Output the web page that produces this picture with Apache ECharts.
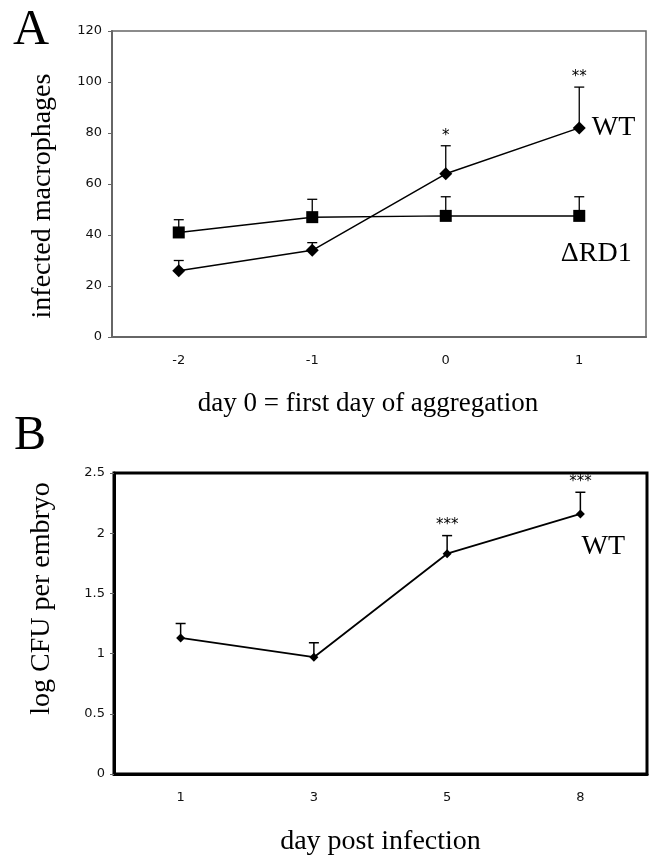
<!DOCTYPE html>
<html>
<head>
  <meta charset="utf-8">
  <title>infected macrophages / log CFU</title>
</head>
<body style="margin:0;background:#fff;">
  <div id="main" style="width:651px;height:857px;"></div>
  <script type="text/javascript" src="https://cdn.jsdelivr.net/npm/echarts@6/dist/echarts.min.js"></script>
  <script type="text/javascript">
    // panel A : infected macrophages around day of aggregation
    const daysA = ['-2', '-1', '0', '1'];
    const wtA = [26, 34, 64, 82];
    const wtAErr = [4, 3, 11, 16];
    const wtAStars = ['', '', '*', '**'];
    const rd1A = [41, 47, 47.5, 47.5];
    const rd1AErr = [5, 7, 7.5, 7.5];

    // panel B : log CFU per embryo
    const daysB = ['1', '3', '5', '8'];
    const wtB = [1.13, 0.97, 1.83, 2.16];
    const wtBErr = [0.12, 0.12, 0.15, 0.18];
    const wtBStars = ['', '', '***', '***'];

    const serif = 'Liberation Serif';
    const sans = 'DejaVu Sans';

    // one upper error bar per point, stars above the cap
    function errorData(vals, errs, stars) {
      return vals.map((v, i) => [i, v, v + errs[i], stars ? stars[i] : '']);
    }
    function errorBar(capW, width) {
      return function (params, api) {
        const base = api.coord([api.value(0), api.value(1)]);
        const top = api.coord([api.value(0), api.value(2)]);
        const star = api.value(3);
        const children = [
          { type: 'line', shape: { x1: base[0], y1: base[1], x2: top[0], y2: top[1] }, style: { stroke: '#000', lineWidth: width } },
          { type: 'line', shape: { x1: top[0] - capW, y1: top[1], x2: top[0] + capW, y2: top[1] }, style: { stroke: '#000', lineWidth: width } }
        ];
        if (star) {
          children.push({
            type: 'text',
            style: { text: star, x: top[0], y: top[1] - 10, align: 'center', verticalAlign: 'middle', fontSize: 15, fontFamily: sans, fill: '#000' }
          });
        }
        return { type: 'group', children: children };
      };
    }
    // put a name label beside the last point
    function withEndLabel(vals, text, position, offset) {
      return vals.map((v, i) => i < vals.length - 1 ? v : {
        value: v,
        label: { show: true, formatter: text, position: position, offset: offset, distance: 6, fontFamily: serif, fontSize: 28, color: '#000' }
      });
    }

    const gridAxisLabel = { fontFamily: sans, fontSize: 13, color: '#111' };

    const option = {
      animation: false,
      backgroundColor: '#fff',
      title: [
        { text: 'A', left: 13, top: 6, padding: 0, textStyle: { fontFamily: serif, fontSize: 50, fontWeight: 'normal', color: '#000' } },
        { text: 'B', left: 14, top: 412, padding: 0, textStyle: { fontFamily: serif, fontSize: 48, fontWeight: 'normal', color: '#000' } }
      ],
      grid: [
        { left: 112, top: 31, width: 534, height: 306, show: true, borderColor: '#666', borderWidth: 1.5 },
        { left: 114, top: 473, width: 533, height: 302, show: true, borderColor: '#000', borderWidth: 3 }
      ],
      xAxis: [
        {
          gridIndex: 0, type: 'category', data: daysA, boundaryGap: true,
          name: 'day 0 = first day of aggregation', nameLocation: 'middle', nameGap: 53,
          nameTextStyle: { fontFamily: serif, fontSize: 27, color: '#000', padding: [0, 22, 0, 0] },
          axisLine: { lineStyle: { color: '#666', width: 2 } },
          axisTick: { length: 4, lineStyle: { color: '#666' } },
          axisLabel: Object.assign({ margin: 17 }, gridAxisLabel),
          splitLine: { show: false }
        },
        {
          gridIndex: 1, type: 'category', data: daysB, boundaryGap: true,
          name: 'day post infection', nameLocation: 'middle', nameGap: 54,
          nameTextStyle: { fontFamily: serif, fontSize: 28, color: '#000' },
          axisLine: { lineStyle: { color: '#000', width: 3 } },
          axisTick: { length: 4, lineStyle: { color: '#666' } },
          axisLabel: Object.assign({ margin: 17 }, gridAxisLabel),
          splitLine: { show: false }
        }
      ],
      yAxis: [
        {
          gridIndex: 0, type: 'value', min: 0, max: 120, interval: 20,
          name: 'infected macrophages', nameLocation: 'middle', nameGap: 55,
          nameTextStyle: { fontFamily: serif, fontSize: 28, color: '#000', padding: [0, 24, 0, 0] },
          axisLine: { show: true, lineStyle: { color: '#666', width: 2 } },
          axisTick: { show: true, length: 4, lineStyle: { color: '#666' } },
          axisLabel: Object.assign({ margin: 10 }, gridAxisLabel),
          splitLine: { show: false }
        },
        {
          gridIndex: 1, type: 'value', min: 0, max: 2.5, interval: 0.5,
          name: 'log CFU per embryo', nameLocation: 'middle', nameGap: 58,
          nameTextStyle: { fontFamily: serif, fontSize: 28, color: '#000', padding: [0, 0, 0, 50] },
          axisLine: { show: true, lineStyle: { color: '#000', width: 3 } },
          axisTick: { show: true, length: 4, lineStyle: { color: '#666' } },
          axisLabel: Object.assign({ margin: 9 }, gridAxisLabel),
          splitLine: { show: false }
        }
      ],
      series: [
        {
          type: 'custom', xAxisIndex: 0, yAxisIndex: 0, z: 1,
          renderItem: errorBar(5, 1.3), data: errorData(wtA, wtAErr, wtAStars)
        },
        {
          type: 'custom', xAxisIndex: 0, yAxisIndex: 0, z: 1,
          renderItem: errorBar(5, 1.3), data: errorData(rd1A, rd1AErr)
        },
        {
          name: 'WT', type: 'line', xAxisIndex: 0, yAxisIndex: 0, z: 3,
          data: withEndLabel(wtA, 'WT', 'right', [0, 0]),
          symbol: 'diamond', symbolSize: 13,
          itemStyle: { color: '#000' }, lineStyle: { color: '#000', width: 1.5 }
        },
        {
          name: 'ΔRD1', type: 'line', xAxisIndex: 0, yAxisIndex: 0, z: 3,
          data: withEndLabel(rd1A, 'ΔRD1', 'bottom', [17, 12]),
          symbol: 'rect', symbolSize: 12,
          itemStyle: { color: '#000' }, lineStyle: { color: '#000', width: 1.5 }
        },
        {
          type: 'custom', xAxisIndex: 1, yAxisIndex: 1, z: 1,
          renderItem: errorBar(5, 1.5), data: errorData(wtB, wtBErr, wtBStars)
        },
        {
          name: 'WT B', type: 'line', xAxisIndex: 1, yAxisIndex: 1, z: 3,
          data: withEndLabel(wtB, 'WT', 'bottom', [23, 8]),
          symbol: 'diamond', symbolSize: 9,
          itemStyle: { color: '#000' }, lineStyle: { color: '#000', width: 1.8 }
        }
      ]
    };

    var myChart = echarts.init(document.getElementById('main'));
    myChart.setOption(option);
  </script>
</body>
</html>
